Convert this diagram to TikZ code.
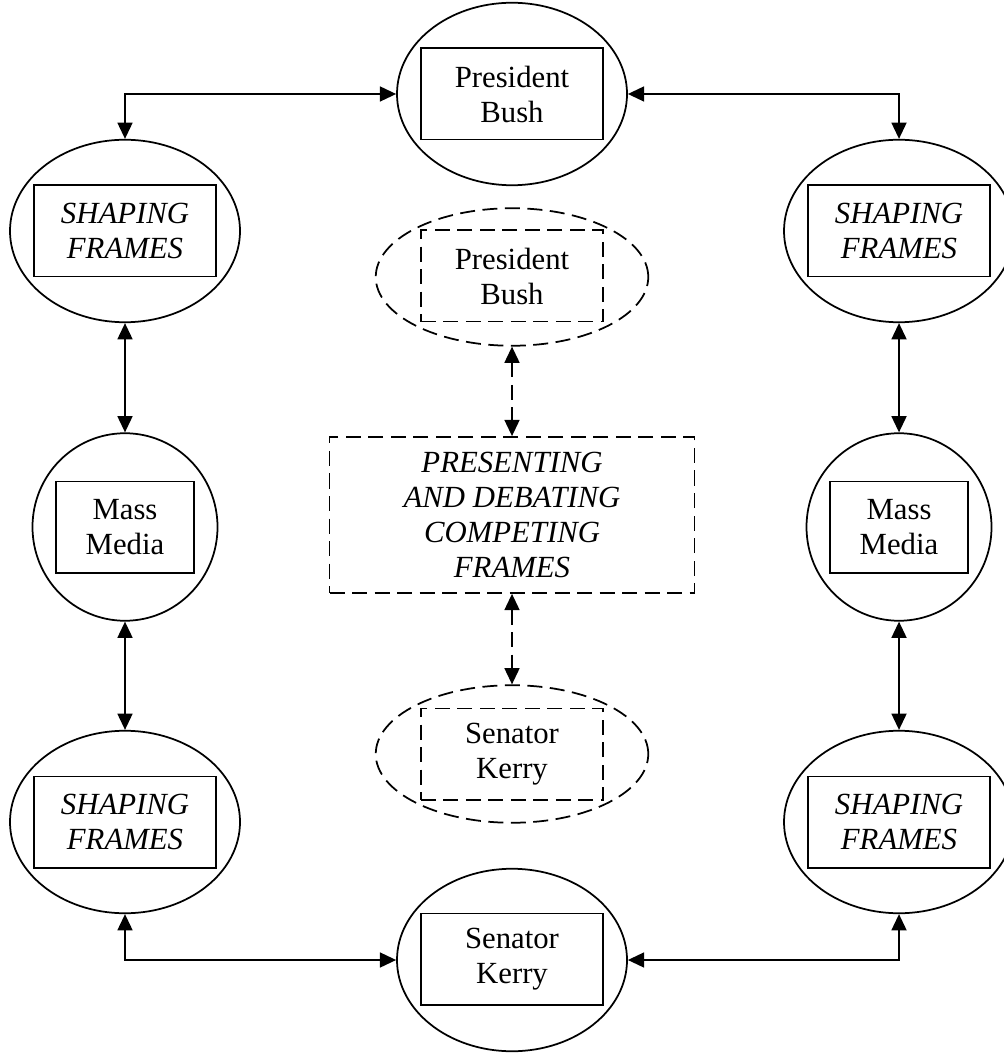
\documentclass[tikz,border=0pt]{standalone}
\usepackage{fontspec}
\setmainfont{Liberation Serif}
\usetikzlibrary{arrows.meta,shapes.geometric}

\begin{document}
\begin{tikzpicture}[x=0.4pt, y=-0.4pt,
  every node/.style={font=\fontsize{12.3}{14}\selectfont, align=center, inner sep=0pt},
  actor/.style={draw, ellipse, line width=0.7pt, minimum width=92pt, minimum height=73pt},
  media/.style={draw, ellipse, line width=0.7pt, minimum width=74pt, minimum height=75pt},
  debater/.style={draw, ellipse, line width=0.7pt, dash pattern=on 6pt off 3pt, minimum width=109pt, minimum height=55pt},
  namebox/.style={draw, rectangle, line width=0.7pt, minimum width=73pt, minimum height=36.5pt},
  framebox/.style={namebox, font=\fontsize{12.3}{14}\selectfont\itshape},
  mediabox/.style={namebox, minimum width=55pt},
  debatebox/.style={namebox, dash pattern=on 6pt off 3pt},
  link/.style={{Triangle[length=6.5pt,width=6pt]}-{Triangle[length=6.5pt,width=6pt]}, line width=0.7pt},
  dashlink/.style={link, dash pattern=on 6pt off 3pt}]
  \useasboundingbox (0,0) rectangle (1003,1057);

  %% outer ring: candidates, shaping frames, mass media
  \node[actor] (bush) at (512,94) {};
  \node[namebox] (bushbox) at (512,94) {President\\Bush};
  \node[actor] (kerry) at (512,960) {};
  \node[namebox] (kerrybox) at (512,959) {Senator\\Kerry};

  \node[actor] (sfTL) at (125,231) {};
  \node[framebox] (sfTLbox) at (125,231) {SHAPING\\FRAMES};
  \node[actor] (sfTR) at (899,231) {};
  \node[framebox] (sfTRbox) at (899,231) {SHAPING\\FRAMES};
  \node[actor] (sfBL) at (125,822) {};
  \node[framebox] (sfBLbox) at (125,822) {SHAPING\\FRAMES};
  \node[actor] (sfBR) at (899,822) {};
  \node[framebox] (sfBRbox) at (899,822) {SHAPING\\FRAMES};

  \node[media] (mmL) at (125,527) {};
  \node[mediabox] (mmLbox) at (125,527) {Mass\\Media};
  \node[media] (mmR) at (899,527) {};
  \node[mediabox] (mmRbox) at (899,527) {Mass\\Media};

  %% centre: the debate
  \node[debater] (bushD) at (512,277) {};
  \node[debatebox] (bushDbox) at (512,276) {President\\Bush};
  \node[draw, rectangle, line width=0.7pt, dash pattern=on 6pt off 3pt, minimum width=146pt, minimum height=62.4pt, font=\fontsize{12.3}{14}\selectfont\itshape] (debate) at (512,515)
    {PRESENTING\\AND DEBATING\\COMPETING\\FRAMES};
  \node[debater] (kerryD) at (512,754) {};
  \node[debatebox] (kerryDbox) at (512,754) {Senator\\Kerry};

  %% connectors
  \draw[link] (bush.west) -| (sfTL.north);
  \draw[link] (bush.east) -| (sfTR.north);
  \draw[link] (sfTL.south) -- (mmL.north);
  \draw[link] (sfTR.south) -- (mmR.north);
  \draw[link] (mmL.south) -- (sfBL.north);
  \draw[link] (mmR.south) -- (sfBR.north);
  \draw[link] (sfBL.south) |- (kerry.west);
  \draw[link] (sfBR.south) |- (kerry.east);

  \draw[dashlink] (bushD.south) -- (debate.north);
  \draw[dashlink] (debate.south) -- (kerryD.north);
\end{tikzpicture}
\end{document}
